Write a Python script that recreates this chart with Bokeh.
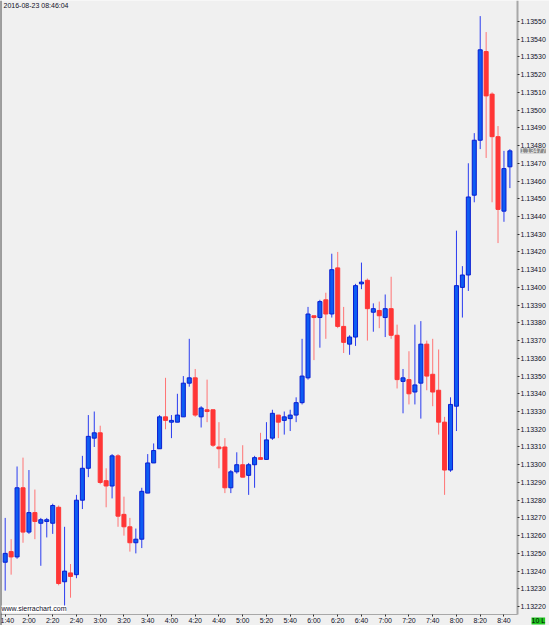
from bokeh.plotting import figure
from bokeh.models import Range1d, FixedTicker, Label, Span, ColumnDataSource, PrintfTickFormatter
from bokeh.embed import file_html
from bokeh.resources import INLINE

# 5-minute bars, 2016-08-23, first bar 1:40
bar_start_min = 100   # 1:40 in minutes after midnight
bar_step_min = 5

open_ = [1.13245, 1.13251, 1.13248, 1.13287, 1.13262, 1.13273, 1.13267, 1.13268, 1.13267, 1.13276,
         1.13234, 1.13239, 1.13238, 1.13280, 1.13298, 1.13315, 1.13318, 1.13291, 1.13288, 1.13305,
         1.13272, 1.13265, 1.13256, 1.13258, 1.13284, 1.13301, 1.13309, 1.13327, 1.13324, 1.13324,
         1.13327, 1.13346, 1.13349, 1.13327, 1.13331, 1.13331, 1.13310, 1.13310, 1.13287, 1.13296,
         1.13300, 1.13294, 1.13300, 1.13304, 1.13303, 1.13315, 1.13328, 1.13325, 1.13326, 1.13328,
         1.13335, 1.13349, 1.13384, 1.13383, 1.13393, 1.13385, 1.13411, 1.13378, 1.13368, 1.13372,
         1.13402, 1.13404, 1.13386, 1.13387, 1.13383, 1.13388, 1.13373, 1.13347, 1.13348, 1.13341,
         1.13346, 1.13368, 1.13351, 1.13342, 1.13324, 1.13297, 1.13333, 1.13400, 1.13407, 1.13452,
         1.13483, 1.13533, 1.13509, 1.13485, 1.13443, 1.13468]
high = [1.13270, 1.13258, 1.13299, 1.13304, 1.13297, 1.13286, 1.13270, 1.13270, 1.13278, 1.13277,
        1.13265, 1.13244, 1.13283, 1.13305, 1.13328, 1.13330, 1.13322, 1.13298, 1.13306, 1.13306,
        1.13282, 1.13270, 1.13264, 1.13287, 1.13306, 1.13312, 1.13328, 1.13349, 1.13328, 1.13340,
        1.13350, 1.13371, 1.13354, 1.13333, 1.13348, 1.13331, 1.13324, 1.13315, 1.13297, 1.13307,
        1.13311, 1.13301, 1.13305, 1.13318, 1.13324, 1.13331, 1.13328, 1.13330, 1.13331, 1.13338,
        1.13371, 1.13389, 1.13384, 1.13393, 1.13397, 1.13419, 1.13420, 1.13389, 1.13373, 1.13402,
        1.13414, 1.13405, 1.13391, 1.13392, 1.13396, 1.13406, 1.13379, 1.13354, 1.13364, 1.13379,
        1.13381, 1.13370, 1.13371, 1.13365, 1.13327, 1.13338, 1.13432, 1.13412, 1.13470, 1.13487,
        1.13553, 1.13544, 1.13510, 1.13491, 1.13477, 1.13478]
low = [1.13229, 1.13238, 1.13247, 1.13256, 1.13261, 1.13258, 1.13243, 1.13259, 1.13261, 1.13232,
       1.13219, 1.13225, 1.13236, 1.13275, 1.13293, 1.13310, 1.13289, 1.13276, 1.13281, 1.13265,
       1.13260, 1.13251, 1.13250, 1.13253, 1.13284, 1.13301, 1.13309, 1.13320, 1.13315, 1.13324,
       1.13327, 1.13344, 1.13327, 1.13321, 1.13324, 1.13310, 1.13298, 1.13284, 1.13284, 1.13295,
       1.13293, 1.13283, 1.13287, 1.13303, 1.13303, 1.13314, 1.13315, 1.13317, 1.13319, 1.13324,
       1.13334, 1.13348, 1.13359, 1.13366, 1.13371, 1.13383, 1.13377, 1.13363, 1.13362, 1.13367,
       1.13399, 1.13370, 1.13375, 1.13377, 1.13372, 1.13371, 1.13343, 1.13329, 1.13334, 1.13334,
       1.13326, 1.13342, 1.13333, 1.13317, 1.13283, 1.13296, 1.13319, 1.13383, 1.13398, 1.13448,
       1.13478, 1.13473, 1.13448, 1.13425, 1.13437, 1.13456]
close = [1.13250, 1.13248, 1.13287, 1.13262, 1.13273, 1.13268, 1.13269, 1.13269, 1.13277, 1.13233,
         1.13240, 1.13237, 1.13280, 1.13298, 1.13316, 1.13318, 1.13290, 1.13288, 1.13305, 1.13271,
         1.13265, 1.13256, 1.13258, 1.13285, 1.13301, 1.13308, 1.13327, 1.13325, 1.13325, 1.13328,
         1.13346, 1.13349, 1.13328, 1.13332, 1.13330, 1.13311, 1.13309, 1.13287, 1.13296, 1.13300,
         1.13293, 1.13300, 1.13304, 1.13303, 1.13314, 1.13329, 1.13324, 1.13327, 1.13328, 1.13335,
         1.13350, 1.13385, 1.13383, 1.13392, 1.13385, 1.13410, 1.13378, 1.13369, 1.13372, 1.13401,
         1.13403, 1.13388, 1.13388, 1.13384, 1.13388, 1.13373, 1.13348, 1.13349, 1.13340, 1.13345,
         1.13368, 1.13350, 1.13341, 1.13324, 1.13297, 1.13334, 1.13401, 1.13407, 1.13451, 1.13483,
         1.13534, 1.13508, 1.13485, 1.13444, 1.13467, 1.13477]

price_ticks = [1.13220, 1.13230, 1.13240, 1.13250, 1.13260, 1.13270, 1.13280, 1.13290, 1.13300,
               1.13310, 1.13320, 1.13330, 1.13340, 1.13350, 1.13360, 1.13370, 1.13380, 1.13390,
               1.13400, 1.13410, 1.13420, 1.13430, 1.13440, 1.13450, 1.13460, 1.13470, 1.13480,
               1.13490, 1.13500, 1.13510, 1.13520, 1.13530, 1.13540, 1.13550]
time_tick_min = [100, 120, 140, 160, 180, 200, 220, 240, 260, 280, 300, 320, 340, 360, 380,
                 400, 420, 440, 460, 480, 500, 520]
time_tick_labels = ["1:40", "2:00", "2:20", "2:40", "3:00", "3:20", "3:40", "4:00", "4:20", "4:40",
                    "5:00", "5:20", "5:40", "6:00", "6:20", "6:40", "7:00", "7:20", "7:40", "8:00",
                    "8:20", "8:40"]
header_text = "2016-08-23 08:46:04"
last_price = 1.13477
last_price_text = "1.13477"
watermark_text = "www.sierrachart.com"
status_text = "10 L"

t = [bar_start_min + bar_step_min * i for i in range(len(open_))]

def split(up):
    d = dict(t=[], hi=[], lo=[], top=[], bot=[])
    for ti, o, h, l, c in zip(t, open_, high, low, close):
        if (c >= o) == up:
            d["t"].append(ti); d["hi"].append(h); d["lo"].append(l)
            d["top"].append(max(o, c)); d["bot"].append(min(o, c))
    return ColumnDataSource(d)

up_src = split(True)
dn_src = split(False)

# view geometry (data units); the whole canvas is the frame, axes sit at fixed locations
X0, X1 = 96.04, 558.35        # canvas left / right
XA = 531.4                    # price-axis position
Y0, Y1 = 1.1320933, 1.135618  # canvas bottom / top
YA = 1.1321554                # time-axis position
FONT = "Liberation Sans"
TXT = "#101028"

p = figure(width=549, height=625, x_range=Range1d(X0, X1), y_range=Range1d(Y0, Y1),
           output_backend="svg", toolbar_location=None, y_axis_location="right",
           min_border_left=0, min_border_top=0, min_border_right=0, min_border_bottom=0,
           background_fill_color="#F0F0F0", border_fill_color="#F0F0F0")
p.outline_line_color = None
p.xgrid.visible = False
p.ygrid.visible = False

# candles
p.segment(x0="t", y0="lo", x1="t", y1="hi", source=up_src, line_color="#2A3CF0", line_width=1)
p.segment(x0="t", y0="lo", x1="t", y1="hi", source=dn_src, line_color="#FF7474", line_width=1)
p.vbar(x="t", top="top", bottom="bot", width=3.4, source=up_src,
       fill_color="#0E5CF2", line_color="#0A1ED2", line_width=1)
p.vbar(x="t", top="top", bottom="bot", width=3.4, source=dn_src,
       fill_color="#FF3636", line_color="#FF3636", line_width=1)

# price axis (right)
ya = p.yaxis[0]
ya.fixed_location = XA
ya.bounds = (YA, Y1)
ya.ticker = FixedTicker(ticks=price_ticks)
ya.formatter = PrintfTickFormatter(format="%.5f")
ya.axis_line_color = "#A8A8A8"
ya.axis_line_width = 2
ya.major_tick_line_color = "#303030"
ya.major_tick_out = 2
ya.major_tick_in = 0
ya.minor_tick_line_color = None
ya.major_label_standoff = 1
ya.major_label_text_font = FONT
ya.major_label_text_font_size = "7px"
ya.major_label_text_color = TXT

# time axis (bottom)
xa = p.xaxis[0]
xa.fixed_location = YA
xa.bounds = (X0, XA)
xa.ticker = FixedTicker(ticks=time_tick_min)
xa.major_label_overrides = {m: s for m, s in zip(time_tick_min, time_tick_labels)}
xa.axis_line_color = "#A8A8A8"
xa.axis_line_width = 1
xa.major_tick_line_color = "#303030"
xa.major_tick_out = 2
xa.major_tick_in = 0
xa.minor_tick_line_color = None
xa.major_label_standoff = 1
xa.major_label_text_font = FONT
xa.major_label_text_font_size = "7px"
xa.major_label_text_color = TXT

p.add_layout(Span(location=X0, dimension="height", line_color="#484848", line_width=2))

p.add_layout(Label(x=X0, y=Y1, x_offset=3, y_offset=-1, text=header_text, text_baseline="top",
                   text_font=FONT, text_font_size="7px", text_color=TXT, level="overlay"))
p.add_layout(Label(x=X0, y=YA, x_offset=1, y_offset=2, text=watermark_text, text_baseline="bottom",
                   text_font=FONT, text_font_size="7px", text_color=TXT,
                   background_fill_color="white", level="overlay"))
p.add_layout(Label(x=XA, y=last_price, x_offset=3, text=last_price_text, text_baseline="middle",
                   text_font=FONT, text_font_size="7px", text_color="#F4F4F4",
                   background_fill_color="#8A8A8A", level="overlay"))
p.add_layout(Label(x=XA, y=YA, x_offset=14, y_offset=-3, text=status_text, text_baseline="top",
                   text_font=FONT, text_font_size="7px", text_color="#000000",
                   background_fill_color="#22C822", level="overlay"))

open("out.html", "w").write(file_html(p, INLINE))
